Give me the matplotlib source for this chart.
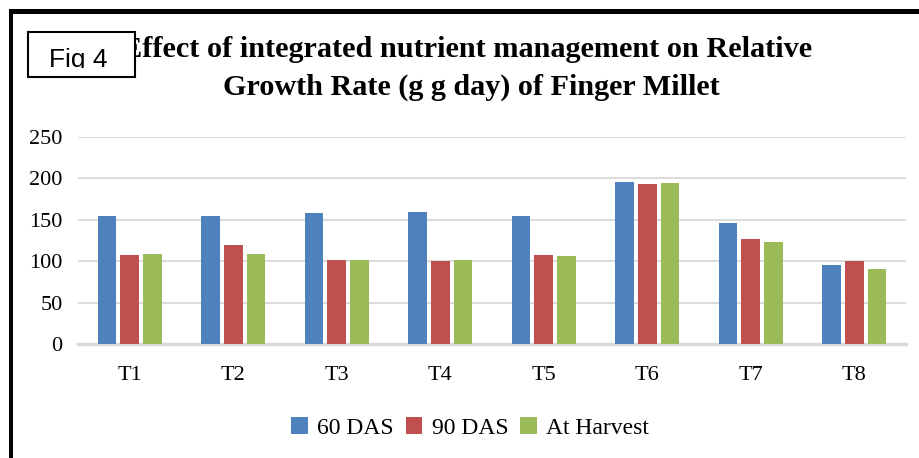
import matplotlib
matplotlib.use("Agg")
import matplotlib.pyplot as plt
import numpy as np
from matplotlib.patches import Rectangle
from matplotlib.transforms import Bbox

categories = ["T1", "T2", "T3", "T4", "T5", "T6", "T7", "T8"]
series_names = ["60 DAS", "90 DAS", "At Harvest"]
das60 = [154, 155, 158, 160, 155, 196, 146, 95]
das90 = [107, 119, 101, 100, 107, 193, 127, 100]
harvest = [109, 109, 102, 102, 106, 194, 123, 91]
yticks = [0, 50, 100, 150, 200, 250]
title_line1 = "Effect of integrated nutrient management on Relative"
title_line2 = "Growth Rate (g g day) of Finger Millet"
fig_label = "Fig 4"

colors = ["#4F81BD", "#C0504D", "#9BBB59"]
W, H = 920, 458
fig = plt.figure(figsize=(W / 100, H / 100), dpi=100)
fig.patch.set_facecolor("white")

def fx(px):
    return px / W

def fy(py):
    return 1 - py / H

ax = fig.add_axes([fx(78), fy(344), fx(906) - fx(78), fy(137) - fy(344)])
x = np.arange(len(categories))
width = 0.18
offsets = [-0.22, 0.0, 0.22]
handles = []
for vals, off, c, name in zip([das60, das90, harvest], offsets, colors, series_names):
    h = ax.bar(x + off, vals, width=width, color=c, label=name, zorder=3)
    handles.append(h)

ax.set_xlim(-0.5, len(categories) - 0.5)
ax.set_ylim(0, 250)
ax.set_yticks(yticks)
ax.set_yticklabels([str(v) for v in yticks])
ax.set_xticks(x)
ax.set_xticklabels(categories)
ax.yaxis.grid(True, color="#D9D9D9", linewidth=1.3, zorder=0)
ax.set_axisbelow(True)
for s in ["top", "right", "left"]:
    ax.spines[s].set_visible(False)
ax.spines["bottom"].set_color("#D9D9D9")
ax.spines["bottom"].set_linewidth(2.5)
ax.tick_params(axis="both", length=0)
ax.tick_params(axis="y", pad=11)
ax.tick_params(axis="x", pad=16)
for lab in ax.get_yticklabels() + ax.get_xticklabels():
    lab.set_fontfamily("Liberation Serif")
    lab.set_fontsize(16)
    lab.set_color("black")

fig.legend(handles=handles, labels=series_names, loc="center",
           bbox_to_anchor=(fx(470), fy(428)), ncol=3, frameon=False,
           prop={"family": "Liberation Serif", "size": 17},
           handlelength=0.7, handleheight=0.7, handletextpad=0.4,
           columnspacing=0.5)

fig.text(fx(467), fy(57), title_line1, ha="center", va="baseline",
         fontfamily="Liberation Serif", fontweight="bold", fontsize=21.8)
fig.text(fx(471), fy(95), title_line2, ha="center", va="baseline",
         fontfamily="Liberation Serif", fontweight="bold", fontsize=21.7)

# outer border lines (top and left)
fig.add_artist(Rectangle((fx(9), fy(14)), 1 - fx(9), fy(9) - fy(14),
                         transform=fig.transFigure, facecolor="black",
                         edgecolor="none", zorder=10))
fig.add_artist(Rectangle((fx(9), 0), fx(13) - fx(9), fy(9),
                         transform=fig.transFigure, facecolor="black",
                         edgecolor="none", zorder=10))

# Fig label box
fig.add_artist(Rectangle((fx(28), fy(77)), fx(135) - fx(28), fy(32) - fy(77),
                         transform=fig.transFigure, facecolor="white",
                         edgecolor="black", linewidth=1.5, zorder=11))
t = fig.text(fx(49), fy(67), fig_label, ha="left", va="baseline",
             fontfamily=["Liberation Sans Narrow", "Liberation Sans"],
             fontsize=19, zorder=12)
t.set_clip_box(Bbox.from_extents(28, H - 68, 135, H - 32))
t.set_clip_on(True)

fig.savefig("out.png", dpi=100, facecolor="white")
